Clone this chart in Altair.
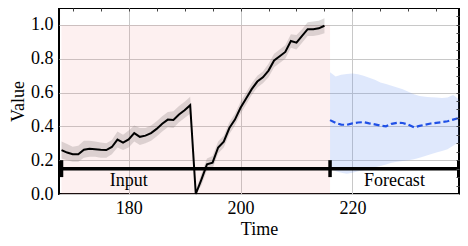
import altair as alt
import pandas as pd

# ---- data ----
t_in = list(range(168, 216))
v_in = [0.26, 0.245, 0.235, 0.235, 0.262, 0.267, 0.265, 0.262, 0.26, 0.278,
        0.322, 0.304, 0.323, 0.36, 0.338, 0.345, 0.36, 0.385, 0.415, 0.44,
        0.438, 0.47, 0.495, 0.525, 0.0, 0.085, 0.175, 0.185, 0.275, 0.31,
        0.39, 0.44, 0.51, 0.565, 0.62, 0.665, 0.69, 0.73, 0.79, 0.815,
        0.84, 0.905, 0.895, 0.935, 0.975, 0.975, 0.98, 0.995]
hi_in = [0.31, 0.295, 0.28, 0.285, 0.315, 0.315, 0.31, 0.305, 0.3, 0.32,
         0.37, 0.35, 0.375, 0.405, 0.39, 0.39, 0.405, 0.43, 0.46, 0.485,
         0.49, 0.52, 0.545, 0.575, 0.02, 0.12, 0.21, 0.225, 0.31, 0.345,
         0.425, 0.475, 0.545, 0.6, 0.655, 0.7, 0.725, 0.77, 0.83, 0.855,
         0.88, 0.945, 0.94, 0.975, 1.015, 1.02, 1.025, 1.04]
lo_in = [0.21, 0.2, 0.19, 0.19, 0.215, 0.22, 0.22, 0.215, 0.215, 0.235,
         0.275, 0.26, 0.275, 0.31, 0.29, 0.3, 0.315, 0.34, 0.37, 0.395,
         0.39, 0.425, 0.45, 0.475, 0.0, 0.05, 0.14, 0.15, 0.24, 0.275,
         0.355, 0.405, 0.475, 0.53, 0.585, 0.63, 0.655, 0.69, 0.75, 0.775,
         0.8, 0.865, 0.855, 0.895, 0.935, 0.935, 0.94, 0.95]

t_fc = list(range(216, 240))
v_fc = [0.437, 0.42, 0.41, 0.409, 0.418, 0.423, 0.425, 0.418, 0.412, 0.405,
        0.40, 0.415, 0.421, 0.42, 0.41, 0.394, 0.403, 0.41, 0.417, 0.421,
        0.425, 0.43, 0.44, 0.449]
hi_fc = [0.72, 0.695, 0.705, 0.71, 0.712, 0.708, 0.70, 0.688, 0.675, 0.66,
         0.65, 0.64, 0.63, 0.62, 0.605, 0.59, 0.58, 0.575, 0.572, 0.57,
         0.568, 0.57, 0.585, 0.56]
lo_fc = [0.15, 0.135, 0.125, 0.12, 0.125, 0.135, 0.14, 0.15, 0.158, 0.165,
         0.175, 0.185, 0.19, 0.195, 0.2, 0.205, 0.215, 0.225, 0.235, 0.245,
         0.255, 0.265, 0.285, 0.305]

seg_labels = ["Input", "Forecast"]
seg_start = [168, 216]
seg_end = [216, 239]
seg_label_x = [180, 227.5]
boundaries = [168, 216, 239]

x_ticks = [180, 200, 220]
y_ticks = [0.0, 0.2, 0.4, 0.6, 0.8, 1.0]
x_minor = [170, 175, 180, 185, 190, 195, 200, 205, 210, 215, 220, 225, 230, 235]
y_minor = [0.05, 0.1, 0.15, 0.2, 0.25, 0.3, 0.35, 0.4, 0.45, 0.5, 0.55, 0.6,
           0.65, 0.7, 0.75, 0.8, 0.85, 0.9, 0.95, 1.0, 1.05]

df_in = pd.DataFrame({"t": t_in, "v": v_in, "lo": lo_in, "hi": hi_in})
df_fc = pd.DataFrame({"t": t_fc, "v": v_fc, "lo": lo_fc, "hi": hi_fc})
df_seg = pd.DataFrame({"label": seg_labels, "start": seg_start, "end": seg_end,
                       "lx": seg_label_x})
df_b = pd.DataFrame({"b": boundaries})

FONT = "Liberation Serif"
xs = alt.Scale(domain=[167.55, 239.05], nice=False, zero=False)
ys = alt.Scale(domain=[0, 1.1], nice=False)

main_x = alt.Axis(title="Time", values=x_ticks, format="d", grid=True,
                  gridColor="#c8c8c8", gridWidth=1, ticks=False, domain=False,
                  labelPadding=5, titleY=40, titleBaseline="alphabetic",
                  labelFont=FONT, titleFont=FONT,
                  labelFontSize=18, titleFontSize=18, labelColor="black",
                  titleColor="black", titleFontWeight="normal")
main_y = alt.Axis(title="Value", values=y_ticks, format=".1f", grid=True,
                  gridColor="#c8c8c8", gridWidth=1, ticks=False, domain=False,
                  labelPadding=6, titleX=-41, titleBaseline="middle",
                  labelFont=FONT, titleFont=FONT,
                  labelFontSize=18, titleFontSize=18, labelColor="black",
                  titleColor="black", titleFontWeight="normal")
top_ax = alt.Axis(orient="top", offset=-3, values=x_minor, labels=False,
                  domain=False, grid=False, ticks=True, tickSize=3,
                  tickColor="#444444", tickWidth=1, title=None, zindex=1)
right_ax = alt.Axis(orient="right", offset=-3, values=y_minor, labels=False,
                    domain=False, grid=False, ticks=True, tickSize=3,
                    tickColor="#444444", tickWidth=1, title=None, zindex=1)

pink = alt.Chart(df_seg).transform_filter(alt.datum.label == "Input").mark_rect(
    color="#f08080", opacity=0.12).encode(
    x=alt.X("start:Q", scale=xs, axis=None),
    x2="end:Q",
    y=alt.YDatum(0.0, scale=ys, axis=None),
    y2=alt.Y2Datum(1.0),
)

band_in = alt.Chart(df_in).mark_area(color="#8a7f7f", opacity=0.28).encode(
    x=alt.X("t:Q", scale=xs, axis=None),
    y=alt.Y("lo:Q", scale=ys, axis=None),
    y2="hi:Q",
)

line_in = alt.Chart(df_in).mark_line(color="black", strokeWidth=2).encode(
    x=alt.X("t:Q", scale=xs, axis=main_x),
    y=alt.Y("v:Q", scale=ys, axis=main_y),
)

band_fc = alt.Chart(df_fc).mark_area(color="#5f8cf0", opacity=0.2).encode(
    x=alt.X("t:Q", scale=xs, axis=None),
    y=alt.Y("lo:Q", scale=ys, axis=None),
    y2="hi:Q",
)

line_fc = alt.Chart(df_fc).mark_line(color="#1f50e6", strokeWidth=2.2,
                                     strokeDash=[6, 3]).encode(
    x=alt.X("t:Q", scale=xs, axis=top_ax),
    y=alt.Y("v:Q", scale=ys, axis=right_ax),
)

bar = alt.Chart(df_seg).mark_rule(color="black", strokeWidth=3.5).encode(
    x=alt.X("start:Q", scale=xs, axis=None),
    x2="end:Q",
    y=alt.YDatum(0.15, scale=ys, axis=None),
)

caps = alt.Chart(df_b).mark_rule(color="black", strokeWidth=3.5).encode(
    x=alt.X("b:Q", scale=xs, axis=None),
    y=alt.YDatum(0.1, scale=ys, axis=None),
    y2=alt.Y2Datum(0.2),
)

labels = alt.Chart(df_seg).mark_text(font=FONT, fontSize=18, color="black",
                                     baseline="middle").encode(
    x=alt.X("lx:Q", scale=xs, axis=None),
    y=alt.YDatum(0.075, scale=ys, axis=None),
    text="label:N",
)

chart = alt.layer(pink, band_in, line_in, band_fc, line_fc, bar, caps, labels).resolve_axis(
    x="independent", y="independent"
).properties(
    width=400, height=186, autosize="none",
    padding={"left": 51, "top": 0, "right": 1, "bottom": 45},
    background="white",
).configure_view(stroke="black", strokeWidth=2)

chart.save("out.html", embed_options={"renderer": "svg", "actions": False})
